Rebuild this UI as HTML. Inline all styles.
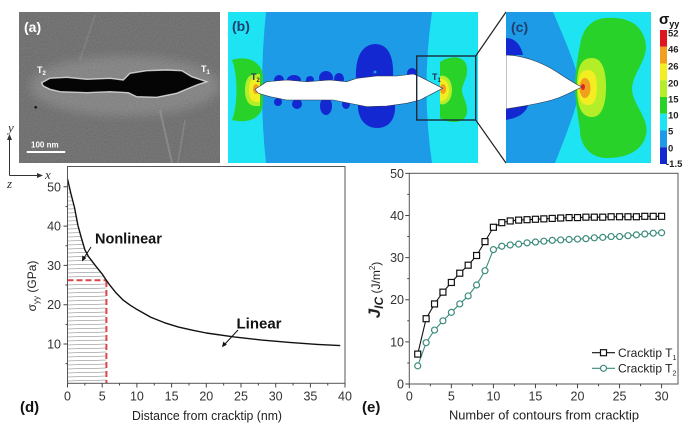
<!DOCTYPE html>
<html><head><meta charset="utf-8">
<style>
html,body{margin:0;padding:0;background:#fff;}
svg{display:block;font-family:"Liberation Sans",Arial,sans-serif;}
</style></head>
<body>
<svg width="698" height="424" viewBox="0 0 698 424" xmlns="http://www.w3.org/2000/svg">
<defs>
<filter id="noise" x="0" y="0" width="100%" height="100%">
<feTurbulence type="fractalNoise" baseFrequency="0.85" numOctaves="2" seed="4"/>
<feColorMatrix type="matrix" values="0.33 0.33 0.33 0 0 0.33 0.33 0.33 0 0 0.33 0.33 0.33 0 0 0 0 0 0 1"/>
</filter>
<filter id="blur4"><feGaussianBlur stdDeviation="5"/></filter>
<rect id="sq" x="-3" y="-3" width="6" height="6" fill="#fff" stroke="#111" stroke-width="1.2"/>
<circle id="ci" r="3" fill="#fff" stroke="#3b8b7c" stroke-width="1.2"/>
</defs>
<rect width="698" height="424" fill="#fff"/>

<svg x="19" y="12" width="201" height="151" viewBox="19 12 201 151">
<rect x="19" y="12" width="201" height="151" fill="#545454"/>
<rect x="19" y="12" width="201" height="151" filter="url(#noise)" opacity="0.3"/>
<ellipse cx="125" cy="86" rx="95" ry="30" fill="#fff" opacity="0.14" filter="url(#blur4)"/>
<line x1="160" y1="110" x2="172" y2="163" stroke="#bbb" stroke-width="2" opacity="0.3"/>
<line x1="185" y1="120" x2="178" y2="163" stroke="#bbb" stroke-width="1.5" opacity="0.25"/>
<line x1="95" y1="15" x2="80" y2="60" stroke="#aaa" stroke-width="2" opacity="0.2"/>
<path d="M41.7,82.7 L50,78.3 L66.7,77.3 L86.7,79.3 L110,78.3 L123.3,80 L130,73.3 L146.7,70.7 L166.7,70 L181.7,70.7 L191.7,76.7 L206.7,81.7 L196.7,85 L176.7,93.3 L156.7,97.3 L136.7,96.7 L128.3,92.7 L110,91.7 L86.7,92.7 L60,91.7 L50,89.3 L43.3,86 Z" fill="#050505" stroke="#e8e8e8" stroke-width="1.4" stroke-opacity="0.8"/>
<circle cx="35.7" cy="107.3" r="1.3" fill="#111"/>
<text x="24" y="32" font-size="14" font-weight="bold" fill="#fff">(a)</text>
<text x="37" y="73" font-size="9" font-weight="bold" fill="#fff">T<tspan font-size="6" dy="2">2</tspan></text>
<text x="201" y="72" font-size="9" font-weight="bold" fill="#fff">T<tspan font-size="6" dy="2">1</tspan></text>
<text x="31" y="147.5" font-size="8" font-weight="bold" fill="#fff">100 nm</text>
<rect x="26.7" y="151" width="38.5" height="2" fill="#fff"/>
</svg>

<svg x="228" y="12" width="250" height="151" viewBox="228 12 250 151">
<rect x="228" y="12" width="250" height="151" fill="#1e9be6"/>
<path d="M228,12 L266,12 Q258,90 266,163 L228,163 Z" fill="#1ee3f3"/>
<path d="M478,12 L432,12 Q421,88 432,163 L478,163 Z" fill="#1ee3f3"/>
<path d="M232,60 C248,55 262,62 263,76 L263,104 C262,118 248,124 232,120 C238,105 238,75 232,60 Z" fill="#28d228"/>
<path d="M245,90 C245,78 250,74 256,74 L260,74 L260,106 L256,106 C250,106 245,102 245,90 Z" fill="#b4ee28"/>
<path d="M249,90 C249,81 252,78 257,78 L260,78 L260,102 L257,102 C252,102 249,99 249,90 Z" fill="#f2ee22"/>
<ellipse cx="256" cy="89" rx="3" ry="5" fill="#f0a01e"/>
<path d="M440,62 C450,55 466,55 467,68 C468,78 462,84 462,90 C462,96 468,104 467,112 C466,124 450,124 440,118 Z" fill="#28d228"/>
<path d="M440,76 C446,74 452,80 452,90 C452,100 446,106 440,104 Z" fill="#b4ee28"/>
<path d="M440,79 C445,78 449,83 449,90 C449,97 445,102 440,101 Z" fill="#f2ee22"/>
<ellipse cx="443" cy="89" rx="3" ry="5" fill="#f0a01e"/>
<g fill="#1428d2">
<path d="M356,80 C355,60 360,45 375,44 C390,44 394,60 393,78 Z"/>
<path d="M358,103 C357,118 365,128 377,128 C390,128 396,118 395,104 Z"/>
<ellipse cx="279" cy="80" rx="5" ry="5"/>
<ellipse cx="294" cy="80" rx="7" ry="5"/>
<ellipse cx="310" cy="80" rx="4" ry="4"/>
<ellipse cx="326" cy="78" rx="7" ry="7"/>
<ellipse cx="339" cy="79" rx="5" ry="6"/>
<ellipse cx="412" cy="73" rx="5" ry="5"/>
<ellipse cx="278" cy="102" rx="4" ry="4"/>
<ellipse cx="297" cy="104" rx="5" ry="5"/>
<ellipse cx="326" cy="106" rx="6" ry="9"/>
<ellipse cx="346" cy="104" rx="4" ry="5"/>
</g>
<circle cx="375" cy="72" r="1.5" fill="#1e9be6"/>
<path d="M255,89.3 L266.7,81.7 L286.7,80 L306.7,81.7 L330,80 L346.7,81.7 L356.7,78.3 L376.7,76 L396.7,76 L413.3,74 L420,76.7 L433,83.3 L442.7,88.3 L433,93.3 L420,100 L406.7,103.3 L386.7,106 L366.7,106.7 L353.3,104 L333.3,100 L313.3,100 L286.7,100 L270,96.7 L258.3,93.3 Z" fill="#fff" stroke="#2a3550" stroke-width="0.6"/>
<rect x="416.7" y="56" width="59" height="64" fill="none" stroke="#1a2a3a" stroke-width="1.4"/>
<text x="232" y="31" font-size="14" font-weight="bold" fill="#1d3f6e">(b)</text>
<text x="251" y="80" font-size="9" font-weight="bold" fill="#1d3050">T<tspan font-size="6" dy="2">2</tspan></text>
<text x="432" y="80" font-size="9" font-weight="bold" fill="#1d3050">T<tspan font-size="6" dy="2">1</tspan></text>
</svg>

<line x1="475.7" y1="56" x2="506" y2="12" stroke="#222" stroke-width="1.2"/>
<line x1="475.7" y1="120" x2="506" y2="163" stroke="#222" stroke-width="1.2"/>

<svg x="506" y="12" width="145" height="151" viewBox="506 12 145 151">
<rect x="506" y="12" width="145" height="151" fill="#1ee3f3"/>
<path d="M506,12 L553,12 C565,40 578,70 580,87 C578,105 566,135 555,163 L506,163 Z" fill="#1e9be6"/>
<path d="M607,18 C625,17 640,22 645,40 C650,58 633,72 632,88 C632,105 650,118 646,135 C642,152 625,158 607,158 C590,158 580,145 580,130 C578,115 575,100 575,87 C575,72 578,55 581,40 C585,25 595,18 607,18 Z" fill="#28d228"/>
<path d="M577,87 C577,65 582,58 592,58 C602,58 606,70 606,87 C606,104 602,117 592,117 C582,117 577,108 577,87 Z" fill="#b4ee28"/>
<path d="M578,87 C578,74 582,70 588,70 C595,70 597,78 597,87 C597,97 595,105 588,105 C582,105 578,100 578,87 Z" fill="#f2ee22"/>
<ellipse cx="585" cy="88" rx="5.5" ry="10" fill="#f0a01e"/>
<ellipse cx="583" cy="87" rx="2" ry="3" fill="#e4281e"/>
<path d="M506,38 C515,38 521,45 523,55 L506,55 Z" fill="#1428d2"/>
<path d="M506,108 C515,107 523,105 528,105 C526,113 518,118 506,120 Z" fill="#1428d2"/>
<path d="M506,55 C520,55 540,61 557,72 C566,78 575,84 582,87 C575,90 565,96 555,99 C540,104 523,106 506,109 Z" fill="#fff" stroke="#2a3550" stroke-width="0.6"/>
<text x="511" y="32" font-size="14" font-weight="bold" fill="#1d3f6e">(c)</text>
</svg>

<rect x="660" y="30" width="7" height="16.75" fill="#e0141e"/>
<rect x="660" y="46.75" width="7" height="16.75" fill="#f0a01e"/>
<rect x="660" y="63.5" width="7" height="16.75" fill="#f2ee22"/>
<rect x="660" y="80.25" width="7" height="16.75" fill="#b4ee28"/>
<rect x="660" y="97" width="7" height="16.75" fill="#28d228"/>
<rect x="660" y="113.75" width="7" height="16.75" fill="#1ee3f3"/>
<rect x="660" y="130.5" width="7" height="16.75" fill="#1e9be6"/>
<rect x="660" y="147.25" width="7" height="16.75" fill="#1428d2"/>
<text x="659" y="24" font-size="15" font-weight="bold" fill="#111">σ<tspan font-size="9" dy="3">yy</tspan></text>
<g font-size="9.5" font-weight="bold" fill="#222">
<text x="668" y="36.5">52</text>
<text x="668" y="52.5">46</text>
<text x="668" y="69.5">26</text>
<text x="668" y="86.5">20</text>
<text x="668" y="102.5">15</text>
<text x="668" y="118.5">10</text>
<text x="668" y="134.5">5</text>
<text x="668" y="151.5">0</text>
<text x="666" y="167">-1.5</text>
</g>

<g stroke="#333" stroke-width="1" fill="none">
<line x1="9.5" y1="139" x2="9.5" y2="175.5"/>
<line x1="9.5" y1="175.5" x2="39" y2="175.5"/>
</g>
<path d="M9.5,134 L7,140 L12,140 Z" fill="#333"/>
<path d="M43,175.5 L37,173 L37,178 Z" fill="#333"/>
<g font-family="'Liberation Serif',serif" font-style="italic" font-size="13" fill="#333">
<text x="8" y="132">y</text>
<text x="45" y="179">x</text>
<text x="7" y="188">z</text>
</g>

<g stroke="#777" stroke-width="0.5">
<line x1="67.5" y1="381" x2="106.4" y2="380"/>
<line x1="67.5" y1="377" x2="106.4" y2="376"/>
<line x1="67.5" y1="373" x2="106.4" y2="372"/>
<line x1="67.5" y1="369" x2="106.4" y2="368"/>
<line x1="67.5" y1="365" x2="106.4" y2="364"/>
<line x1="67.5" y1="361" x2="106.4" y2="360"/>
<line x1="67.5" y1="357" x2="106.4" y2="356"/>
<line x1="67.5" y1="353" x2="106.4" y2="352"/>
<line x1="67.5" y1="349" x2="106.4" y2="348"/>
<line x1="67.5" y1="345" x2="106.4" y2="344"/>
<line x1="67.5" y1="341" x2="106.4" y2="340"/>
<line x1="67.5" y1="337" x2="106.4" y2="336"/>
<line x1="67.5" y1="333" x2="106.4" y2="332"/>
<line x1="67.5" y1="329" x2="106.4" y2="328"/>
<line x1="67.5" y1="325" x2="106.4" y2="324"/>
<line x1="67.5" y1="321" x2="106.4" y2="320"/>
<line x1="67.5" y1="317" x2="106.4" y2="316"/>
<line x1="67.5" y1="313" x2="106.4" y2="312"/>
<line x1="67.5" y1="309" x2="106.4" y2="308"/>
<line x1="67.5" y1="305" x2="106.4" y2="304"/>
<line x1="67.5" y1="301" x2="106.4" y2="300"/>
<line x1="67.5" y1="297" x2="106.4" y2="296"/>
<line x1="67.5" y1="293" x2="106.4" y2="292"/>
<line x1="67.5" y1="289" x2="106.4" y2="288"/>
<line x1="67.5" y1="285" x2="106.4" y2="284"/>
<line x1="67.5" y1="277" x2="104.15" y2="276.05"/>
<line x1="67.5" y1="273" x2="101.36" y2="272.13"/>
<line x1="67.5" y1="269" x2="98.15" y2="268.21"/>
<line x1="67.5" y1="265" x2="94.95" y2="264.3"/>
<line x1="67.5" y1="261" x2="91.9" y2="260.37"/>
<line x1="67.5" y1="257" x2="88.8" y2="256.45"/>
<line x1="67.5" y1="253" x2="86.57" y2="252.51"/>
<line x1="67.5" y1="249" x2="84.65" y2="248.56"/>
<line x1="67.5" y1="245" x2="83.47" y2="244.59"/>
<line x1="67.5" y1="241" x2="82.3" y2="240.62"/>
<line x1="67.5" y1="237" x2="81.13" y2="236.65"/>
<line x1="67.5" y1="233" x2="80.03" y2="232.68"/>
<line x1="67.5" y1="229" x2="78.93" y2="228.71"/>
<line x1="67.5" y1="225" x2="77.85" y2="224.73"/>
<line x1="67.5" y1="221" x2="77.08" y2="220.75"/>
<line x1="67.5" y1="217" x2="76.31" y2="216.77"/>
<line x1="67.5" y1="213" x2="75.55" y2="212.79"/>
<line x1="67.5" y1="209" x2="74.78" y2="208.81"/>
<line x1="67.5" y1="205" x2="73.86" y2="204.84"/>
<line x1="67.5" y1="201" x2="72.82" y2="200.86"/>
<line x1="67.5" y1="197" x2="71.78" y2="196.89"/>
<line x1="67.5" y1="193" x2="70.77" y2="192.92"/>
<line x1="67.5" y1="189" x2="69.84" y2="188.94"/>
</g>
<g stroke="#d9474a" stroke-width="2" stroke-dasharray="6,3" fill="none">
<line x1="67.5" y1="280.3" x2="106.4" y2="280.3"/>
<line x1="106.4" y1="281" x2="106.4" y2="383"/>
</g>
<path d="M67.5,178.94 L70.97,193.87 L74.44,207.24 L77.91,225.31 L81.38,237.89 L84.85,249.68 L88.32,256.36 L95.26,265.4 L102.2,274.05 L106.36,280.33 L109.14,284.26 L116.08,292.91 L123.02,299.98 L129.96,305.09 L136.9,309.42 L150.78,317.28 L164.66,322.78 L178.54,327.1 L192.42,330.24 L206.3,333 L234.06,336.93 L261.82,340.07 L289.58,342.43 L317.34,344.39 L340.24,345.57" fill="none" stroke="#111" stroke-width="1.4" stroke-linejoin="round"/>
<rect x="67.5" y="166.5" width="277.5" height="216.8" fill="none" stroke="#555" stroke-width="1"/>
<g stroke="#444" stroke-width="1">
<path d="M63.5,344H67.5M63.5,304.7H67.5M63.5,265.4H67.5M63.5,226.1H67.5M63.5,186.8H67.5M65.5,363.65H67.5M65.5,324.35H67.5M65.5,285.05H67.5M65.5,245.75H67.5M65.5,206.45H67.5"/>
<path d="M67.5,383.3V387.5M102.2,383.3V387.5M136.9,383.3V387.5M171.6,383.3V387.5M206.3,383.3V387.5M241,383.3V387.5M275.7,383.3V387.5M310.4,383.3V387.5M345,383.3V387.5"/>
<path d="M84.85,383.3V385.5M119.55,383.3V385.5M154.25,383.3V385.5M188.95,383.3V385.5M223.65,383.3V385.5M258.35,383.3V385.5M293.05,383.3V385.5M327.75,383.3V385.5"/>
</g>
<g font-size="12.5" fill="#333" text-anchor="end">
<text x="61" y="348.5">10</text>
<text x="61" y="309.2">20</text>
<text x="61" y="269.9">30</text>
<text x="61" y="230.6">40</text>
<text x="61" y="191.3">50</text>
</g>
<g font-size="12.5" fill="#333" text-anchor="middle">
<text x="67.5" y="400.5">0</text>
<text x="102.2" y="400.5">5</text>
<text x="136.9" y="400.5">10</text>
<text x="171.6" y="400.5">15</text>
<text x="206.3" y="400.5">20</text>
<text x="241" y="400.5">25</text>
<text x="275.7" y="400.5">30</text>
<text x="310.4" y="400.5">35</text>
<text x="345" y="400.5">40</text>
</g>
<text x="207" y="420" font-size="12.5" fill="#222" text-anchor="middle" textLength="150" lengthAdjust="spacingAndGlyphs">Distance from cracktip (nm)</text>
<text transform="translate(36,286) rotate(-90)" font-size="12" fill="#222" text-anchor="middle">σ<tspan font-size="8" dy="3">yy</tspan><tspan dy="-3"> (GPa)</tspan></text>
<text x="20" y="412" font-size="15" font-weight="bold" fill="#111">(d)</text>
<text x="95" y="243.5" font-size="14.5" font-weight="bold" fill="#111">Nonlinear</text>
<line x1="91" y1="247" x2="84" y2="258" stroke="#111" stroke-width="1"/>
<path d="M82,261.5 L82.3,255.5 L86.3,258 Z" fill="#111"/>
<text x="236.5" y="328.5" font-size="15" font-weight="bold" fill="#111">Linear</text>
<line x1="238" y1="330" x2="224.5" y2="344.5" stroke="#111" stroke-width="1"/>
<path d="M222,347.3 L223.3,341.6 L226.8,344.8 Z" fill="#111"/>

<polyline points="417.71,354.09 426.12,318.70 434.53,303.95 442.94,292.16 451.35,282.47 459.76,273.20 468.17,265.19 476.58,255.50 484.99,241.60 493.4,227.28 501.81,222.64 510.22,220.96 518.63,220.11 527.04,219.69 535.45,219.27 543.86,218.85 552.27,218.43 560.68,218.01 569.09,217.59 577.5,217.59 585.91,217.17 594.32,217.17 602.73,217.17 611.14,216.74 619.55,216.74 627.96,216.74 636.37,216.74 644.78,216.32 653.19,216.32 661.6,216.32" fill="none" stroke="#111" stroke-width="1.1"/>
<polyline points="417.71,365.88 426.12,342.71 434.53,330.07 442.94,320.80 451.35,312.38 459.76,303.95 468.17,295.95 476.58,284.99 484.99,270.67 493.4,249.61 501.81,246.23 510.22,244.97 518.63,244.13 527.04,242.86 535.45,242.02 543.86,241.18 552.27,240.34 560.68,239.92 569.09,239.49 577.5,239.07 585.91,238.65 594.32,237.81 602.73,237.39 611.14,236.54 619.55,236.54 627.96,235.70 636.37,234.86 644.78,234.02 653.19,233.17 661.6,232.75" fill="none" stroke="#3b8b7c" stroke-width="1.1"/>
<use href="#sq" x="417.71" y="354.09"/><use href="#sq" x="426.12" y="318.70"/><use href="#sq" x="434.53" y="303.95"/><use href="#sq" x="442.94" y="292.16"/><use href="#sq" x="451.35" y="282.47"/><use href="#sq" x="459.76" y="273.20"/><use href="#sq" x="468.17" y="265.19"/><use href="#sq" x="476.58" y="255.50"/><use href="#sq" x="484.99" y="241.60"/><use href="#sq" x="493.4" y="227.28"/>
<use href="#sq" x="501.81" y="222.64"/><use href="#sq" x="510.22" y="220.96"/><use href="#sq" x="518.63" y="220.11"/><use href="#sq" x="527.04" y="219.69"/><use href="#sq" x="535.45" y="219.27"/><use href="#sq" x="543.86" y="218.85"/><use href="#sq" x="552.27" y="218.43"/><use href="#sq" x="560.68" y="218.01"/><use href="#sq" x="569.09" y="217.59"/><use href="#sq" x="577.5" y="217.59"/>
<use href="#sq" x="585.91" y="217.17"/><use href="#sq" x="594.32" y="217.17"/><use href="#sq" x="602.73" y="217.17"/><use href="#sq" x="611.14" y="216.74"/><use href="#sq" x="619.55" y="216.74"/><use href="#sq" x="627.96" y="216.74"/><use href="#sq" x="636.37" y="216.74"/><use href="#sq" x="644.78" y="216.32"/><use href="#sq" x="653.19" y="216.32"/><use href="#sq" x="661.6" y="216.32"/>
<use href="#ci" x="417.71" y="365.88"/><use href="#ci" x="426.12" y="342.71"/><use href="#ci" x="434.53" y="330.07"/><use href="#ci" x="442.94" y="320.80"/><use href="#ci" x="451.35" y="312.38"/><use href="#ci" x="459.76" y="303.95"/><use href="#ci" x="468.17" y="295.95"/><use href="#ci" x="476.58" y="284.99"/><use href="#ci" x="484.99" y="270.67"/><use href="#ci" x="493.4" y="249.61"/>
<use href="#ci" x="501.81" y="246.23"/><use href="#ci" x="510.22" y="244.97"/><use href="#ci" x="518.63" y="244.13"/><use href="#ci" x="527.04" y="242.86"/><use href="#ci" x="535.45" y="242.02"/><use href="#ci" x="543.86" y="241.18"/><use href="#ci" x="552.27" y="240.34"/><use href="#ci" x="560.68" y="239.92"/><use href="#ci" x="569.09" y="239.49"/><use href="#ci" x="577.5" y="239.07"/>
<use href="#ci" x="585.91" y="238.65"/><use href="#ci" x="594.32" y="237.81"/><use href="#ci" x="602.73" y="237.39"/><use href="#ci" x="611.14" y="236.54"/><use href="#ci" x="619.55" y="236.54"/><use href="#ci" x="627.96" y="235.70"/><use href="#ci" x="636.37" y="234.86"/><use href="#ci" x="644.78" y="234.02"/><use href="#ci" x="653.19" y="233.17"/><use href="#ci" x="661.6" y="232.75"/>
<rect x="409.3" y="173.3" width="268.7" height="210.7" fill="none" stroke="#555" stroke-width="1"/>
<g stroke="#444" stroke-width="1">
<path d="M405.3,384H409.3M405.3,341.87H409.3M405.3,299.74H409.3M405.3,257.61H409.3M405.3,215.48H409.3M405.3,173.35H409.3M407.3,362.94H409.3M407.3,320.81H409.3M407.3,278.68H409.3M407.3,236.55H409.3M407.3,194.42H409.3"/>
<path d="M409.3,384V388.2M451.35,384V388.2M493.4,384V388.2M535.45,384V388.2M577.5,384V388.2M619.55,384V388.2M661.6,384V388.2"/>
<path d="M430.33,384V386.2M472.38,384V386.2M514.43,384V386.2M556.48,384V386.2M598.53,384V386.2M640.58,384V386.2"/>
</g>
<g font-size="12.5" fill="#333" text-anchor="end">
<text x="404" y="388.5">0</text>
<text x="404" y="346.4">10</text>
<text x="404" y="304.2">20</text>
<text x="404" y="262.1">30</text>
<text x="404" y="220">40</text>
<text x="404" y="177.9">50</text>
</g>
<g font-size="12.5" fill="#333" text-anchor="middle">
<text x="409.3" y="400.5">0</text>
<text x="451.35" y="400.5">5</text>
<text x="493.4" y="400.5">10</text>
<text x="535.45" y="400.5">15</text>
<text x="577.5" y="400.5">20</text>
<text x="619.55" y="400.5">25</text>
<text x="661.6" y="400.5">30</text>
</g>
<text x="544" y="419.5" font-size="12.5" fill="#222" text-anchor="middle" textLength="190" lengthAdjust="spacingAndGlyphs">Number of contours from cracktip</text>
<text transform="translate(380,290) rotate(-90)" fill="#222" text-anchor="middle"><tspan font-size="17" font-weight="bold" font-style="italic">J</tspan><tspan font-size="12" font-weight="bold" font-style="italic" dy="3">IC</tspan><tspan font-size="12" dy="-3"> (J/m</tspan><tspan font-size="8" dy="-5">2</tspan><tspan font-size="12" dy="5">)</tspan></text>
<text x="362" y="412" font-size="15" font-weight="bold" fill="#111">(e)</text>
<line x1="592" y1="352.7" x2="615" y2="352.7" stroke="#111" stroke-width="1.1"/>
<use href="#sq" x="603.5" y="352.7"/>
<text x="618" y="357" font-size="12" fill="#222">Cracktip T<tspan font-size="7" dy="3">1</tspan></text>
<line x1="592" y1="368.3" x2="615" y2="368.3" stroke="#3b8b7c" stroke-width="1.1"/>
<use href="#ci" x="603.5" y="368.3"/>
<text x="618" y="372.5" font-size="12" fill="#222">Cracktip T<tspan font-size="7" dy="3">2</tspan></text>
</svg>
</body></html>
